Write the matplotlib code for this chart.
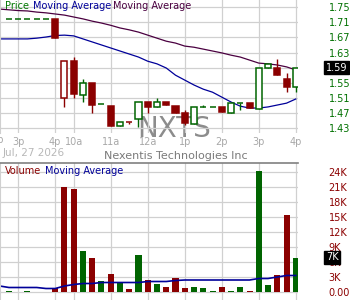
import numpy as np
import matplotlib
matplotlib.use('Agg')
import matplotlib.pyplot as plt
from matplotlib.transforms import blended_transform_factory

# 15-minute bars, bar 0 = 2:45p of the previous session
opens = [1.719, 1.719, 1.719, 1.719, 1.719, 1.719, 1.509, 1.607, 1.517, 1.549,
         1.495, 1.488, 1.435, 1.446, 1.454, 1.499, 1.486, 1.499, 1.488, 1.470,
         1.441, 1.486, 1.486, 1.486, 1.470, 1.496, 1.496, 1.480, 1.589, 1.589,
         1.560, 1.539]
highs = [1.719, 1.719, 1.719, 1.719, 1.719, 1.719, 1.607, 1.618, 1.560, 1.549,
         1.495, 1.488, 1.447, 1.446, 1.499, 1.499, 1.509, 1.499, 1.488, 1.478,
         1.486, 1.491, 1.486, 1.486, 1.496, 1.496, 1.496, 1.589, 1.600, 1.613,
         1.576, 1.589]
lows = [1.719, 1.719, 1.719, 1.719, 1.719, 1.668, 1.486, 1.509, 1.499, 1.470,
        1.493, 1.435, 1.435, 1.440, 1.432, 1.470, 1.486, 1.491, 1.470, 1.437,
        1.441, 1.486, 1.486, 1.472, 1.470, 1.478, 1.483, 1.480, 1.589, 1.570,
        1.525, 1.525]
closes = [1.719, 1.719, 1.719, 1.719, 1.719, 1.668, 1.607, 1.520, 1.549, 1.491,
          1.493, 1.435, 1.447, 1.445, 1.499, 1.486, 1.499, 1.491, 1.470, 1.443,
          1.486, 1.486, 1.486, 1.472, 1.496, 1.496, 1.483, 1.589, 1.600, 1.570,
          1.539, 1.589]
volumes_k = [0.2, 0.0, 0.2, 0.0, 0.0, 0.8, 21.1, 20.6, 8.3, 6.9,
             2.2, 3.7, 1.9, 0.7, 7.4, 2.4, 1.6, 1.1, 2.9, 0.9,
             1.1, 0.9, 0.3, 1.1, 0.3, 1.1, 0.3, 24.3, 1.4, 3.4,
             15.4, 6.9]

# moving averages start one bar earlier (bar -1)
ma_slow = [1.745, 1.743, 1.741, 1.740, 1.737, 1.735, 1.732, 1.729, 1.724, 1.719,
           1.713, 1.708, 1.702, 1.695, 1.690, 1.684, 1.676, 1.668, 1.660, 1.655,
           1.647, 1.644, 1.639, 1.634, 1.629, 1.623, 1.618, 1.610, 1.602, 1.600,
           1.597, 1.592, 1.584]
ma_fast = [1.666, 1.666, 1.666, 1.666, 1.668, 1.671, 1.675, 1.676, 1.674, 1.666,
           1.658, 1.650, 1.642, 1.634, 1.626, 1.618, 1.607, 1.600, 1.589, 1.570,
           1.557, 1.544, 1.533, 1.525, 1.512, 1.499, 1.488, 1.483, 1.483, 1.486,
           1.491, 1.496, 1.507]
vol_ma_k = [1.2, 0.9, 0.9, 0.9, 0.9, 0.7, 0.7, 1.2, 1.5, 1.7,
            1.7, 1.9, 1.9, 1.9, 1.9, 1.9, 2.1, 2.1, 2.1, 2.3,
            2.4, 2.4, 2.4, 2.4, 2.4, 2.4, 2.4, 2.4, 2.7, 2.7,
            3.0, 3.3, 3.3]

time_ticks = [1, 5, 7, 11, 15, 19, 23, 27, 31]
time_labels = ['3p', '4p', '10a', '11a', '12a', '1p', '2p', '3p', '4p']
price_ticks = [1.43, 1.47, 1.51, 1.55, 1.59, 1.63, 1.67, 1.71, 1.75]
vol_ticks = [0, 3, 6, 9, 12, 15, 18, 21, 24]
vol_labels = ['0.00', '3K', '6K', '9K', '12K', '15K', '18K', '21K', '24K']
last_price = 1.59
last_volume = 6.9

RED = '#8b0000'
GREEN = '#006400'
BLUE = '#000099'
PURPLE = '#4a0040'
GRID = '#d0d0d0'

W, H = 350, 300
fig = plt.figure(figsize=(3.5, 3.0), dpi=100)
ax = fig.add_axes([0, 1 - 133 / H, 298 / W, 133 / H])
axv = fig.add_axes([0, 0, 298 / W, 137 / H])

n = len(closes)
x = np.arange(n)
x_ma = np.arange(-1, n)

# candle colours: hollow when close > open, red when close < previous close
colors = []
for i in range(n):
    prev = closes[i - 1] if i > 0 else closes[i]
    colors.append(RED if closes[i] < prev else GREEN)

for a in (ax, axv):
    a.set_xlim(-0.97, 31.24)
    a.set_xticks(time_ticks)
    a.grid(True, color=GRID, lw=0.9)
    a.set_axisbelow(True)
    for s in ('top', 'right', 'bottom'):
        a.spines[s].set_visible(False)
    a.spines['left'].set_color(GRID)
    a.yaxis.tick_right()
    a.tick_params(length=0, pad=22, labelsize=7)

# --- price panel
ax.plot(x_ma, ma_slow, color=PURPLE, lw=0.9, zorder=1.8)
ax.plot(x_ma, ma_fast, color=BLUE, lw=0.9, zorder=1.8)
ax.vlines(x, lows, highs, colors=colors, lw=1.0, zorder=2)
for i in range(n):
    o, c = opens[i], closes[i]
    hollow = c > o
    ax.bar(x[i], abs(c - o), bottom=min(o, c), width=0.65,
           facecolor='white' if hollow else colors[i],
           edgecolor=colors[i], lw=1.1, zorder=2.2)

ax.set_ylim(1.417, 1.769)
ax.set_yticks(price_ticks)
ax.set_yticklabels([f'{p:.2f}' for p in price_ticks], color='#007000')
ax.set_xticklabels(time_labels, color='#a8a8a8')
ax.tick_params(axis='x', pad=3)

tr = blended_transform_factory(ax.transAxes, ax.transData)
ax.text(327 / 298 - 0.003, last_price, f'{last_price:.2f}', transform=tr,
        ha='left', va='center', color='white', fontsize=7, clip_on=False,
        bbox=dict(facecolor='black', edgecolor='black', pad=1.2), zorder=5)

ax.text(174 / W, 1 - 137 / H, 'NXTS', transform=fig.transFigure,
        ha='center', va='baseline', fontsize=20, color='#8c8c8c',
        clip_on=False, zorder=0.5)

# --- volume panel
axv.bar(x, volumes_k, width=0.65, color=colors, zorder=2)
axv.plot(x_ma, vol_ma_k, color=BLUE, lw=1.2, zorder=2.5)
axv.set_ylim(-1.6, 25.8)
axv.set_yticks(vol_ticks)
axv.set_yticklabels(vol_labels, color='#8b0000')
axv.set_xticklabels([])
axv.spines['top'].set_visible(True)
axv.spines['top'].set_color('#808080')
axv.spines['top'].set_linewidth(1.2)

trv = blended_transform_factory(axv.transAxes, axv.transData)
axv.text(327 / 298 - 0.003, last_volume, '7K', transform=trv,
         ha='left', va='center', color='white', fontsize=7, clip_on=False,
         bbox=dict(facecolor='black', edgecolor='black', pad=1.2), zorder=5)

# --- header / legend texts
def ftext(px, py, s, **kw):
    fig.text(px / W, 1 - py / H, s, va='center', **kw)

ftext(-3, 140, '2p', ha='center', fontsize=7, color='#a8a8a8')
ftext(5, 6, 'Price', fontsize=7, color='#007700')
ftext(33, 6, 'Moving Average', fontsize=7, color=BLUE)
ftext(113, 6, 'Moving Average', fontsize=7, color=PURPLE)
ftext(3, 153, 'Jul, 27 2026', fontsize=7.5, color='#b8b8b8')
ftext(176, 156, 'Nexentis Technologies Inc', ha='center', fontsize=8, color='#7a7a7a')
ftext(5, 171, 'Volume', fontsize=7, color=RED)
ftext(45, 171, 'Moving Average', fontsize=7, color=BLUE)

fig.savefig('out.png', dpi=100)
